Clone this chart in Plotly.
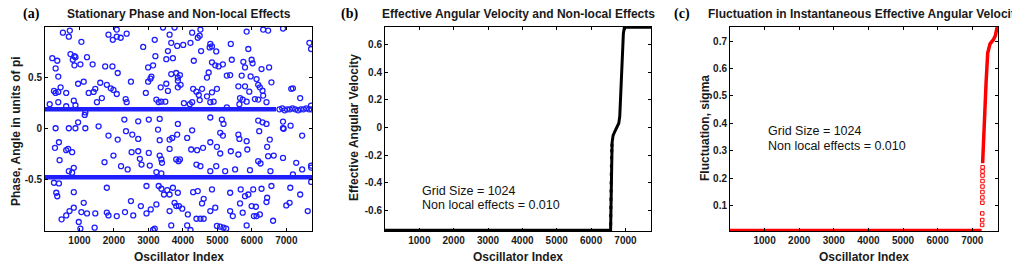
import plotly.graph_objects as go

W, H = 1012, 263

# ---------------- Panel (a): stationary phase (scattered oscillators) ----------------
a_x_q1 = [520,721,692,1056,1842,1967,2082,2196,2369,2082,2848,3183,3423,3614,3662,3835,3758,
          213,357,740,855,884,807,1219,1028,855,1382,1746,1957,2110,309,386,2992,3135,3202,3519,3566,3710,3806,3662,3854,2493,2992,3059,3087,
          261,309,386,453,616,961,1124,1603,1794,1909,1986,2082,1267,1411,1459,1507,1650,2340,2369,2925,3231,3298,3375,3490,3356,3519,3566,3854,3854,137,386,616,884,836,
          1152,1171,2302,2704,3011,3327,3854,692,884,1171,1555,309,961]
a_y_q1 = [0.94,0.96,0.90,0.85,0.92,0.87,0.90,0.89,0.93,0.97,0.80,0.87,0.99,0.92,0.84,0.81,0.99,
          0.69,0.665,0.73,0.71,0.70,0.675,0.70,0.63,0.62,0.63,0.61,0.61,0.545,0.59,0.51,0.60,0.62,0.71,0.68,0.76,0.69,0.545,0.535,0.50,0.46,0.46,0.49,0.51,
          0.37,0.35,0.36,0.405,0.35,0.44,0.46,0.45,0.43,0.395,0.38,0.34,0.35,0.36,0.39,0.26,0.30,0.29,0.26,0.35,0.285,0.26,0.265,0.265,0.405,0.44,0.37,0.405,0.47,0.24,0.26,0.22,0.23,0.275,
          0.135,0.16,0.09,0.073,0.09,0.096,0.047,0.005,0.005,0.005,0.024,0.005,0.063]

a_x_q2 = [4508,4268,4488,4431,4795,4776,4843,4527,4009,4220,4967,5849,5389,5897,6472,6328,6903,7669,7717,
          4316,4843,4939,5035,5159,5418,5753,5801,5993,6021,6280,6500,5274,5370,4747,4699,5705,5964,6136,5609,
          5801,6184,6232,6567,6309,6328,5925,3914,3933,4297,4393,4556,4460,4699,4843,4987,5657,5849,5734,6088,
          6184,6424,7142,7190,7401,7717,4029,4201,4268,4488,4795,4891,5274,5638,
          4795,5130,5178,6184,6309,6424,6903,7123,6903]
a_y_q2 = [0.97,0.94,0.91,0.89,0.83,0.795,0.805,0.76,0.82,0.84,0.756,0.95,0.83,0.78,0.96,0.97,0.98,0.84,0.78,
          0.665,0.65,0.62,0.61,0.63,0.675,0.655,0.60,0.675,0.64,0.584,0.60,0.52,0.525,0.55,0.50,0.52,0.512,0.486,0.415,
          0.415,0.43,0.405,0.454,0.372,0.324,0.363,0.525,0.43,0.39,0.363,0.39,0.33,0.317,0.356,0.39,0.30,0.265,0.285,0.29,
          0.285,0.26,0.39,0.395,0.30,0.226,0.25,0.24,0.26,0.28,0.26,0.265,0.21,0.24,
          0.11,0.09,0.047,0.08,0.063,0.047,0.07,0.03,0.005]

a_x_q3 = [1842,2110,2350,2532,2704,3279,3327,3614,3691,3835,405,290,616,673,788,424,1727,1986,2513,2704,
          2752,2800,3011,3327,3375,3394,3614,3806,3873,2206,2398,3040,3231,3375,692,836,788,
          261,405,328,357,836,1794,2944,3298,3375,3451,3547,3614,3710,3854,1124,836,712,616,482,980,
          1056,1219,1459,1794,1842,2082,2321,2493,2560,2781,2944,3068,3231,3614,3758,3806,1028,1440,3135,3183,3662]
a_y_q3 = [-0.067,-0.106,-0.024,-0.057,-0.10,-0.008,-0.112,-0.106,-0.09,-0.057,-0.132,-0.187,-0.21,-0.197,-0.229,-0.307,-0.327,-0.262,-0.229,-0.22,
          -0.294,-0.35,-0.236,-0.262,-0.30,-0.333,-0.197,-0.30,-0.317,-0.366,-0.398,-0.36,-0.424,-0.437,-0.415,-0.382,-0.43,
          -0.528,-0.535,-0.626,-0.66,-0.62,-0.577,-0.56,-0.56,-0.587,-0.643,-0.60,-0.643,-0.577,-0.626,-0.724,-0.772,-0.805,-0.848,-0.886,-0.912,
          -0.815,-0.828,-0.828,-0.82,-0.848,-0.854,-0.815,-0.707,-0.848,-0.756,-0.828,-0.789,-0.74,-0.805,-0.724,-0.756,-0.977,-0.967,-0.99,-0.977,-0.945]

a_x_q4 = [4268,4124,5082,5159,5609,5638,5849,6213,6922,7458,4795,4987,4412,4584,4240,5082,5389,5609,5868,6443,
          6520,6472,6634,6903,6184,3914,7286,7458,7717,4393,4508,4795,4967,5226,5514,5945,6251,6539,7190,
          4297,4431,4843,5370,5676,5801,5897,6040,6280,6568,7114,7401,6443,6999,7094,4603,4555,4939,4795,5370,
          5447,5657,5734,5993,6117,6059,6232,6424,6615,6136,7621,3885,3981,4144,4393,4508,4603,4124,4220,4987,
          5082,5178,5255,5849,7720,7720]
a_y_q4 = [-0.015,-0.09,-0.04,-0.067,-0.057,-0.10,-0.122,-0.024,0.0,-0.067,-0.132,-0.177,-0.21,-0.187,-0.203,-0.242,-0.22,-0.252,-0.203,-0.177,
          -0.106,-0.268,-0.262,-0.285,-0.317,-0.30,-0.333,-0.398,-0.36,-0.35,-0.366,-0.415,-0.366,-0.415,-0.398,-0.405,-0.34,-0.415,-0.447,
          -0.62,-0.61,-0.593,-0.626,-0.593,-0.659,-0.643,-0.593,-0.587,-0.56,-0.577,-0.643,-0.675,-0.75,-0.724,-0.685,-0.73,-0.772,-0.805,-0.805,
          -0.854,-0.73,-0.821,-0.756,-0.763,-0.854,-0.838,-0.717,-0.90,-0.854,-0.805,-0.756,-0.782,-0.838,-0.88,-0.88,-0.88,-0.945,-0.99,-0.95,
          -0.958,-0.967,-0.977,-0.945,-0.38,-0.52]

# synchronized clusters (dense bands of oscillators)
a_band_upper_x = [1, 6700]
a_band_upper_y = [0.19, 0.19]
a_band_lower_x = [1, 7744]
a_band_lower_y = [-0.475, -0.475]
a_tail_x = [6800, 6880, 6950, 7020, 7100, 7180, 7260, 7340, 7420, 7500, 7580, 7660, 7730]
a_tail_y = [0.19, 0.20, 0.18, 0.19, 0.19, 0.20, 0.19, 0.18, 0.19, 0.19, 0.20, 0.19, 0.19]

# ---------------- Panel (b): effective angular velocity (sorted) ----------------
b_x = [1, 6568, 6612, 6640, 6690, 6760, 6806, 6835, 6870, 6903, 6940, 6971, 7744]
b_y = [-0.745, -0.745, -0.11, -0.06, -0.03, 0.0, 0.03, 0.08, 0.30, 0.54, 0.68, 0.725, 0.725]
b_sparse_x = [6570, 6572, 6575, 6578, 6581, 6584, 6588, 6592, 6596, 6601, 6606]
b_sparse_y = [-0.70, -0.64, -0.58, -0.52, -0.46, -0.40, -0.34, -0.28, -0.22, -0.17, -0.13]

# ---------------- Panel (c): fluctuation sigma (sorted) ----------------
c_x1 = [1, 7272]
c_y1 = [0.011, 0.011]
c_sq_x = [7286, 7288, 7289, 7292, 7293, 7294, 7295, 7296, 7297, 7298, 7299]
c_sq_y = [0.03, 0.048, 0.072, 0.111, 0.13, 0.15, 0.17, 0.19, 0.21, 0.225, 0.24]
c_x2 = [7300, 7340, 7400, 7446, 7480, 7514, 7611, 7669, 7700, 7725]
c_y2 = [0.255, 0.40, 0.55, 0.656, 0.68, 0.69, 0.705, 0.72, 0.74, 0.753]

x_ticks = [1000, 2000, 3000, 4000, 5000, 6000, 7000]
a_yticks = [-0.5, 0, 0.5]
b_yticks = [-0.6, -0.4, -0.2, 0, 0.2, 0.4, 0.6]
c_yticks = [0.1, 0.2, 0.3, 0.4, 0.5, 0.6, 0.7]

BLUE = "rgb(30,30,255)"
FONT = "Liberation Sans, Arial, Helvetica, sans-serif"
SERIF = "Liberation Serif, Times New Roman, serif"
TXT = "#1a1a1a"

a_x = a_x_q1 + a_x_q2 + a_x_q3 + a_x_q4
a_y = a_y_q1 + a_y_q2 + a_y_q3 + a_y_q4

fig = go.Figure()
fig.add_trace(go.Scatter(x=a_band_upper_x, y=a_band_upper_y, mode="lines",
                         line=dict(color=BLUE, width=4.5), xaxis="x", yaxis="y"))
fig.add_trace(go.Scatter(x=a_band_lower_x, y=a_band_lower_y, mode="lines",
                         line=dict(color=BLUE, width=4.5), xaxis="x", yaxis="y"))
fig.add_trace(go.Scatter(x=a_tail_x, y=a_tail_y, mode="markers",
                         marker=dict(symbol="circle-open", size=5, color=BLUE, line=dict(width=1.3)),
                         xaxis="x", yaxis="y"))
fig.add_trace(go.Scatter(x=a_x, y=a_y, mode="markers",
                         marker=dict(symbol="circle-open", size=5, color=BLUE, line=dict(width=1.3)),
                         xaxis="x", yaxis="y"))

fig.add_trace(go.Scatter(x=b_x, y=b_y, mode="lines", line=dict(color="black", width=3),
                         cliponaxis=False, xaxis="x2", yaxis="y2"))
fig.add_trace(go.Scatter(x=b_sparse_x, y=b_sparse_y, mode="markers",
                         marker=dict(symbol="square", size=3, color="black"),
                         xaxis="x2", yaxis="y2"))

fig.add_trace(go.Scatter(x=c_x1, y=c_y1, mode="lines", line=dict(color="red", width=3),
                         cliponaxis=False, xaxis="x3", yaxis="y3"))
fig.add_trace(go.Scatter(x=c_sq_x, y=c_sq_y, mode="markers",
                         marker=dict(symbol="square-open", size=3.5, color="red", line=dict(width=1)),
                         xaxis="x3", yaxis="y3"))
fig.add_trace(go.Scatter(x=c_x2, y=c_y2, mode="lines", line=dict(color="red", width=3.5),
                         cliponaxis=False, xaxis="x3", yaxis="y3"))


def xa(left, right):
    return dict(domain=[left / W, right / W], range=[1, 7744], tickvals=x_ticks,
                ticktext=[str(v) for v in x_ticks], ticks="inside", ticklen=3, tickcolor="black",
                showline=True, linecolor="black", linewidth=1, mirror="ticks",
                showgrid=False, zeroline=False,
                tickfont=dict(family=FONT, size=10, color=TXT, weight="bold"))


def ya(anchor, rng, vals, labels):
    return dict(domain=[1 - 231 / H, 1 - 26.5 / H], range=rng, tickvals=vals, ticktext=labels,
                anchor=anchor, ticks="inside", ticklen=3, tickcolor="black",
                showline=True, linecolor="black", linewidth=1, mirror="ticks",
                showgrid=False, zeroline=False,
                tickfont=dict(family=FONT, size=10, color=TXT, weight="bold"))


def lab(v):
    return "%g" % v


fig.update_layout(
    width=W, height=H, margin=dict(l=0, r=0, t=0, b=0), showlegend=False,
    paper_bgcolor="white", plot_bgcolor="white",
    xaxis=dict(xa(45, 312), anchor="y"),
    xaxis2=dict(xa(385, 651), anchor="y2"),
    xaxis3=dict(xa(730, 998), anchor="y3"),
    yaxis=ya("x", [-1, 1], a_yticks, [lab(v) for v in a_yticks]),
    yaxis2=ya("x2", [-0.75, 0.73], b_yticks, [lab(v) for v in b_yticks]),
    yaxis3=ya("x3", [0.008, 0.753], c_yticks, [lab(v) for v in c_yticks]),
)

ann = []


def add_text(text, x, y, size, bold=True, xanchor="center", angle=0, family=FONT, color=TXT):
    ann.append(dict(text=text, x=x / W, y=1 - y / H, xref="paper", yref="paper",
                    xanchor=xanchor, yanchor="middle", showarrow=False, textangle=angle,
                    font=dict(family=family, size=size, color=color,
                              weight="bold" if bold else "normal")))


add_text("(a)", 21, 14, 14, xanchor="left", family=SERIF, color="black")
add_text("(b)", 339, 14, 14, xanchor="left", family=SERIF, color="black")
add_text("(c)", 672, 14, 14, xanchor="left", family=SERIF, color="black")

add_text("Stationary Phase and Non-local Effects", 178.5, 14, 12)
add_text("Effective Angular Velocity and Non-local Effects", 518, 14, 12)
add_text("Fluctuation in Instantaneous Effective Angular Velocity", 706, 14, 12, xanchor="left")

for cx in (178.5, 518, 864):
    add_text("Oscillator Index", cx, 256.5, 12)

add_text("Phase, Angle in units of pi", 16, 131, 12, angle=-90)
add_text("Effective Angular Velocity", 354, 128, 12, angle=-90)
add_text("Fluctuation, sigma", 705, 128, 12, angle=-90)

add_text("Grid Size = 1024", 420, 191, 12.5, bold=False, xanchor="left", color="#111")
add_text("Non local effects = 0.010", 420, 205, 12.5, bold=False, xanchor="left", color="#111")
add_text("Grid Size = 1024", 766, 131, 12.5, bold=False, xanchor="left", color="#111")
add_text("Non local effects = 0.010", 766, 145.5, 12.5, bold=False, xanchor="left", color="#111")

fig.update_layout(annotations=ann)
fig.write_html("out.html")
